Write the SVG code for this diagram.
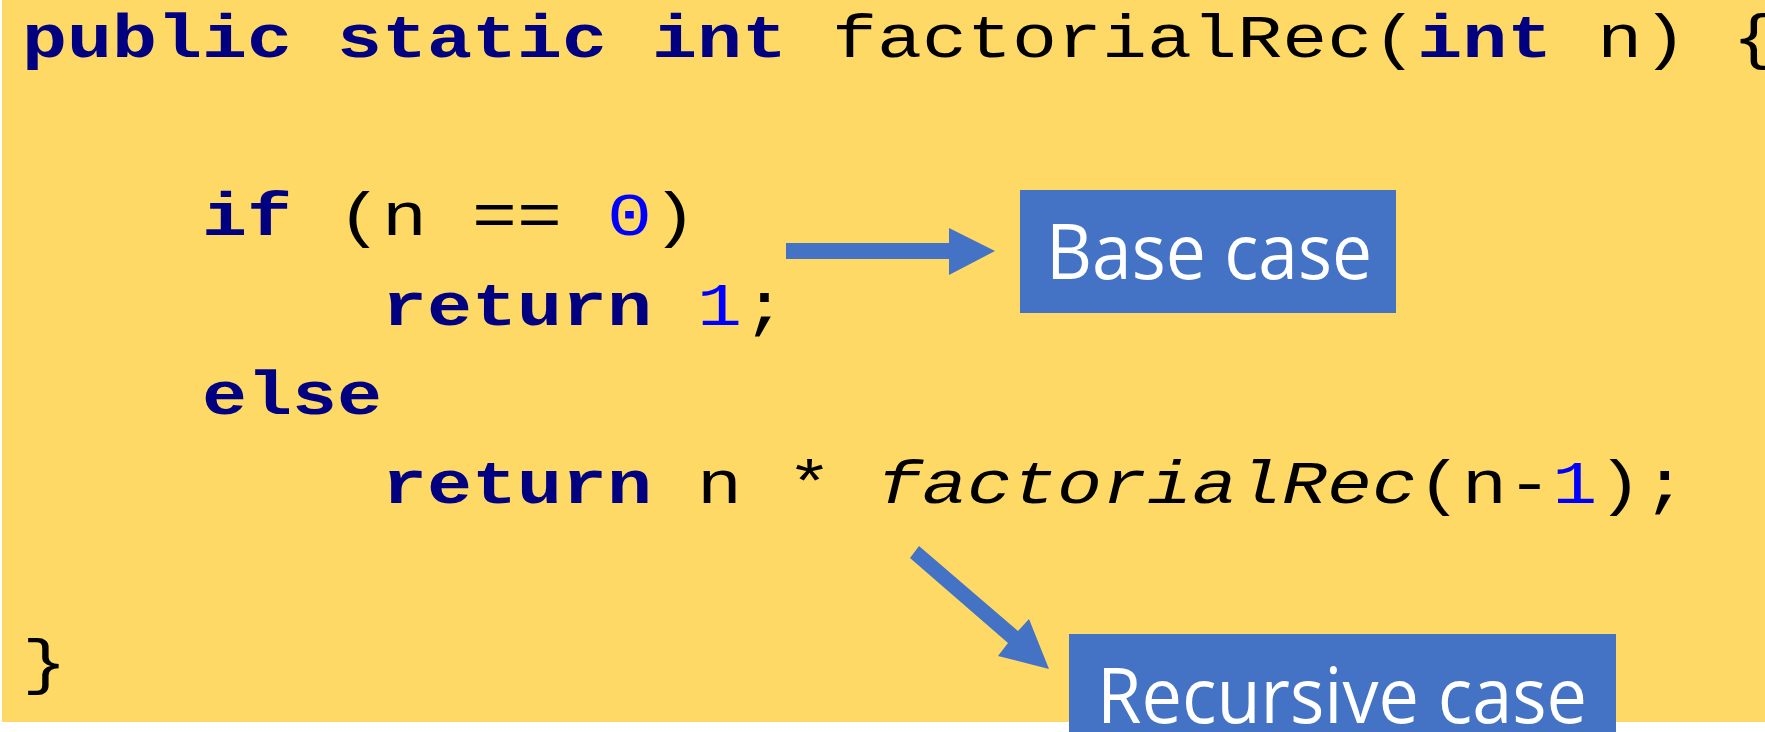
<svg xmlns="http://www.w3.org/2000/svg" width="1765" height="732" viewBox="0 0 1765 732">
<style>
.code{font-family:"Liberation Mono","Courier New",monospace;font-size:75px;fill:#000000;white-space:pre}
.kw{font-weight:bold;fill:#000080}
.num{fill:#0000FF}
.it{font-style:italic}
.box{fill:#4472C4}
.lbl{font-family:"Open Sans","Noto Sans",sans-serif;font-size:76px;fill:#FFFFFF}
.arrow{fill:#4472C4}
</style>
<rect x="0" y="0" width="1765" height="732" fill="#FFFFFF"/>
<rect x="2" y="0" width="1763" height="722" fill="#FED966"/>
<g id="code">
<text class="code" transform="translate(22,57) scale(1,0.82)" xml:space="preserve"><tspan class="kw">public static int</tspan> factorialRec(<tspan class="kw">int</tspan> n) {</text>
<text class="code" transform="translate(202,235) scale(1,0.82)" xml:space="preserve"><tspan class="kw">if</tspan> (n == <tspan class="num">0</tspan>)</text>
<text class="code" transform="translate(382,325) scale(1,0.82)" xml:space="preserve"><tspan class="kw">return</tspan> <tspan class="num">1</tspan>;</text>
<text class="code" transform="translate(202,414) scale(1,0.82)" xml:space="preserve"><tspan class="kw">else</tspan></text>
<text class="code" transform="translate(382,503) scale(1,0.82)" xml:space="preserve"><tspan class="kw">return</tspan> n * <tspan class="it">factorialRec</tspan>(n-<tspan class="num">1</tspan>);</text>
<text class="code" transform="translate(22,682) scale(1,0.82)" xml:space="preserve">}</text>
</g>
<g id="connectors">
<polygon class="arrow" points="786,243 949,243 949,228 995,251 949,275 949,259 786,259"/>
<polygon class="arrow" points="919,546 1018,631 1029,619 1049,669 998,656 1008,643 910,558"/>
</g>
<g id="base-case">
<rect class="box" x="1020" y="190" width="376" height="123"/>
<text class="lbl" x="1046" y="279" textLength="326" lengthAdjust="spacingAndGlyphs">Base case</text>
</g>
<g id="recursive-case">
<rect class="box" x="1069" y="634" width="547" height="98"/>
<text class="lbl" x="1097" y="723" textLength="490" lengthAdjust="spacingAndGlyphs">Recursive case</text>
</g>
</svg>
